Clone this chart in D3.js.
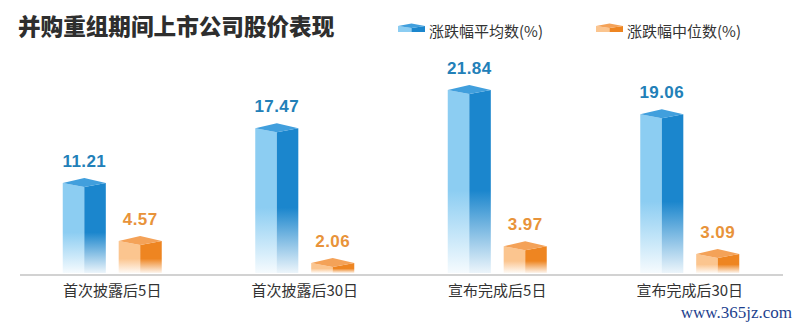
<!DOCTYPE html>
<html>
<head>
<meta charset="utf-8">
<script src="https://cdn.jsdelivr.net/npm/d3@7"></script>
<style>
  html, body { margin: 0; padding: 0; background: #fff; }
  svg { display: block; }
</style>
</head>
<body>
<svg id="chart" width="801" height="327"></svg>
<script>
const categories = ["首次披露后5日", "首次披露后30日", "宣布完成后5日", "宣布完成后30日"];
const meanValues = [11.21, 17.47, 21.84, 19.06];
const medianValues = [4.57, 2.06, 3.97, 3.09];
const seriesNames = ["涨跌幅平均数(%)", "涨跌幅中位数(%)"];
const seriesKeys = ["mean", "median"];
const titleText = "并购重组期间上市公司股价表现";
const watermarkText = "www.365jz.com";

const W = 801, H = 327;
const svg = d3.select("#chart");
const cjk = "'Noto Sans CJK SC', 'Noto Sans', sans-serif";

const palette = {
  mean:   { light: "#8ccdf2", dark: "#1b86cd", top: "#419fdd", label: "#2280b8" },
  median: { light: "#fbc58f", dark: "#ee8521", top: "#f4a258", label: "#e8933a" }
};

const rows = categories.map((c, i) => ({ cat: c, mean: meanValues[i], median: medianValues[i] }));

const x0 = d3.scaleBand().domain(categories).range([16, 786]);
const x1 = d3.scaleBand().domain(seriesKeys).range([-49.5, 49.5]).paddingInner(0.23);
const y = d3.scaleLinear().domain([0, 25]).range([281, 281 - 25 * 8.75]);
const bottomY = 273;
const roofUp = 5, roofDown = 4;

const defs = svg.append("defs");
seriesKeys.forEach(k => {
  ["light", "dark"].forEach(f => {
    const g = defs.append("linearGradient")
      .attr("id", `g-${k}-${f}`)
      .attr("x1", 0).attr("y1", 0).attr("x2", 0).attr("y2", 1);
    g.append("stop").attr("offset", 0).attr("stop-color", palette[k][f]).attr("stop-opacity", 1);
    g.append("stop").attr("offset", 0.55).attr("stop-color", palette[k][f]).attr("stop-opacity", 1);
    g.append("stop").attr("offset", 1).attr("stop-color", palette[k][f]).attr("stop-opacity", 0.08);
  });
});

// title
svg.append("text")
  .attr("x", 18).attr("y", 35)
  .attr("font-family", cjk).attr("font-weight", 900)
  .attr("font-size", 22.6).attr("fill", "#2e2e2e")
  .text(titleText);

// legend
const legendX = [398, 596];
seriesKeys.forEach((k, i) => {
  const lx = legendX[i], lw = 27, mid = lx + lw / 2;
  const g = svg.append("g");
  g.append("polygon").attr("points", `${lx},26 ${mid},28 ${mid},32 ${lx},32`).attr("fill", palette[k].light);
  g.append("polygon").attr("points", `${mid},28 ${lx + lw},26 ${lx + lw},32 ${mid},32`).attr("fill", palette[k].dark);
  g.append("polygon").attr("points", `${lx},26 ${mid},23.5 ${lx + lw},26 ${mid},28`).attr("fill", palette[k].top);
  svg.append("text")
    .attr("x", lx + lw + 4).attr("y", 36.5)
    .attr("font-family", cjk).attr("font-size", 15).attr("fill", "#333")
    .text(seriesNames[i]);
});

// bars
const groups = svg.append("g").selectAll("g.grp")
  .data(rows).join("g").attr("class", "grp")
  .attr("transform", d => `translate(${x0(d.cat) + x0.bandwidth() / 2},0)`);

seriesKeys.forEach(k => {
  groups.each(function (d) {
    const g = d3.select(this);
    const v = d[k];
    const xl = x1(k), xr = x1(k) + x1.bandwidth(), xm = (xl + xr) / 2;
    const yt = y(v);
    g.append("polygon")
      .attr("points", `${xl},${yt} ${xm},${yt + roofDown} ${xm},${bottomY} ${xl},${bottomY}`)
      .attr("fill", `url(#g-${k}-light)`);
    g.append("polygon")
      .attr("points", `${xm},${yt + roofDown} ${xr},${yt} ${xr},${bottomY} ${xm},${bottomY}`)
      .attr("fill", `url(#g-${k}-dark)`);
    g.append("polygon")
      .attr("points", `${xl},${yt} ${xm},${yt - roofUp} ${xr},${yt} ${xm},${yt + roofDown}`)
      .attr("fill", palette[k].top);
    g.append("text")
      .attr("x", xm).attr("y", yt - 16)
      .attr("text-anchor", "middle")
      .attr("font-family", "'Liberation Sans', Arial, sans-serif")
      .attr("font-weight", 700).attr("font-size", 17)
      .attr("letter-spacing", 0.4)
      .attr("fill", palette[k].label)
      .text(v.toFixed(2));
  });
});

// axis
const axis = d3.axisBottom(x0).tickSize(0).tickPadding(10);
const axG = svg.append("g").attr("transform", `translate(0,275)`).call(axis);
axG.select(".domain").attr("stroke", "#d2d2d2").attr("stroke-width", 2)
  .attr("d", "M20,0H783");
axG.selectAll(".tick text")
  .attr("font-family", cjk).attr("font-size", 15).attr("fill", "#333")
  .attr("dy", "0.72em");

// watermark
svg.append("text")
  .attr("x", 792).attr("y", 318)
  .attr("text-anchor", "end")
  .attr("font-family", "'Liberation Serif', 'DejaVu Serif', serif")
  .attr("font-size", 17).attr("fill", "#1d3f8e")
  .text(watermarkText);
</script>
</body>
</html>
